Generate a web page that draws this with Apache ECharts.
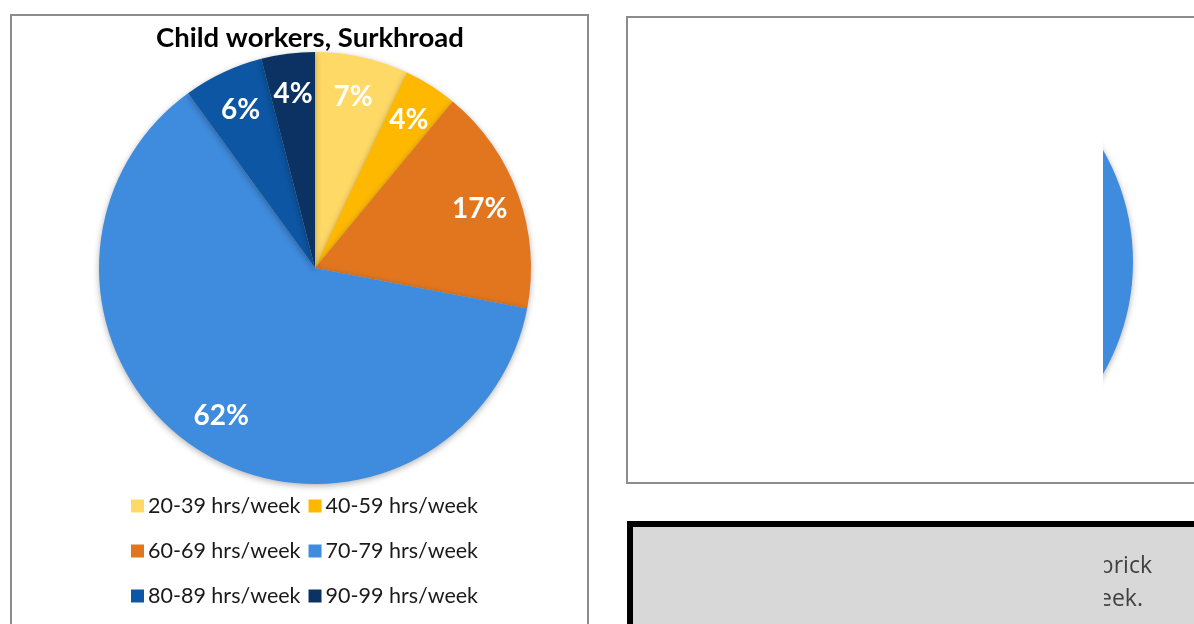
<!DOCTYPE html>
<html>
<head>
<meta charset="utf-8">
<script src="https://cdn.jsdelivr.net/npm/echarts@6/dist/echarts.min.js"></script>
<style>
  html, body { margin: 0; padding: 0; background: #fff; }
  #main { width: 1194px; height: 624px; }
</style>
</head>
<body>
<div id="main"></div>
<script>
// data
var categories = ['20-39 hrs/week', '40-59 hrs/week', '60-69 hrs/week', '70-79 hrs/week', '80-89 hrs/week', '90-99 hrs/week'];
var shares = [7, 4, 17, 62, 6, 4];
var colors = ['#ffd966', '#ffb800', '#e1761f', '#3f8bdd', '#0c56a3', '#0b3262'];
var legendRows = [[0, 1], [2, 3], [4, 5]];
// second (mostly hidden) chart on the right: only the 70-79 part shows
var rightCategories = ['70-79 hrs/week'];
var rightShares = [62];

var myChart = echarts.init(document.getElementById('main'));

var pieData = categories.map(function(name, i) {
    return { name: name, value: shares[i], itemStyle: { color: colors[i] } };
});

var legends = legendRows.map(function(row, r) {
    return {
        data: row.map(function(i) { return categories[i]; }),
        left: 126,
        top: 490 + r * 45,
        orient: 'horizontal',
        itemWidth: 13,
        itemHeight: 13,
        itemGap: 8,
        icon: 'rect',
        selectedMode: false,
        textStyle: {
            color: '#1a1a1a',
            fontSize: 21.5,
            fontFamily: 'Lato',
            padding: [0, 0, 0, -1]
        }
    };
});

var option = {
    animation: false,
    title: {
        text: 'Child workers, Surkhroad',
        left: 151,
        top: 19,
        textStyle: {
            fontFamily: 'Lato',
            fontWeight: 'bold',
            fontSize: 27.5,
            color: '#000'
        }
    },
    legend: legends,
    series: [{
        name: 'Child workers',
        type: 'pie',
        center: [315, 268],
        radius: 216,
        startAngle: 90,
        data: pieData,
        label: { show: false },
        labelLine: { show: false },
        silent: true,
        itemStyle: {
            shadowBlur: 6,
            shadowColor: 'rgba(0,0,0,0.3)',
            shadowOffsetY: 2
        }
    }, {
        // transparent ring used only to place the percent labels near the rim
        name: 'labels',
        type: 'pie',
        center: [315, 268],
        radius: [128, 216],
        startAngle: 90,
        silent: true,
        data: categories.map(function(name, i) {
            return { name: name, value: shares[i] };
        }),
        itemStyle: { color: 'rgba(0,0,0,0)' },
        label: {
            show: true,
            position: 'inside',
            formatter: '{c}%',
            color: '#fff',
            fontFamily: 'Lato',
            fontWeight: 'bold',
            fontSize: 28
        },
        labelLine: { show: false }
    }, {
        name: 'right',
        type: 'pie',
        center: [909, 262],
        radius: 224,
        startAngle: 90,
        silent: true,
        data: rightCategories.map(function(name, i) {
            return { name: name, value: rightShares[i], itemStyle: { color: colors[3] } };
        }),
        label: { show: false },
        labelLine: { show: false },
        itemStyle: {
            shadowBlur: 6,
            shadowColor: 'rgba(0,0,0,0.3)',
            shadowOffsetY: 2
        }
    }],
    graphic: [
        // left panel frame
        { type: 'rect', z: 50, shape: { x: 11, y: 15, width: 577, height: 640 },
          style: { fill: 'none', stroke: '#8c8c8c', lineWidth: 2 } },
        // white cover hiding most of the right chart
        { type: 'rect', z: 40, shape: { x: 620, y: 10, width: 483, height: 500 },
          style: { fill: '#fff' } },
        // right panel frame
        { type: 'rect', z: 50, shape: { x: 627, y: 17, width: 620, height: 466 },
          style: { fill: 'none', stroke: '#8c8c8c', lineWidth: 2 } },
        // grey text box
        { type: 'rect', z: 50, shape: { x: 630, y: 524, width: 620, height: 160 },
          style: { fill: '#d8d8d8', stroke: '#000', lineWidth: 6 } },
        { type: 'text', z: 51, x: 1152, y: 566,
          style: { text: 'brick', fill: '#404040', font: '23px "Open Sans"', align: 'right', verticalAlign: 'middle' } },
        { type: 'text', z: 51, x: 1143, y: 599,
          style: { text: 'week.', fill: '#404040', font: '23px "Open Sans"', align: 'right', verticalAlign: 'middle' } },
        { type: 'rect', z: 52, shape: { x: 634, y: 528, width: 470, height: 100 },
          style: { fill: '#d8d8d8' } }
    ]
};

myChart.setOption(option);
</script>
</body>
</html>
